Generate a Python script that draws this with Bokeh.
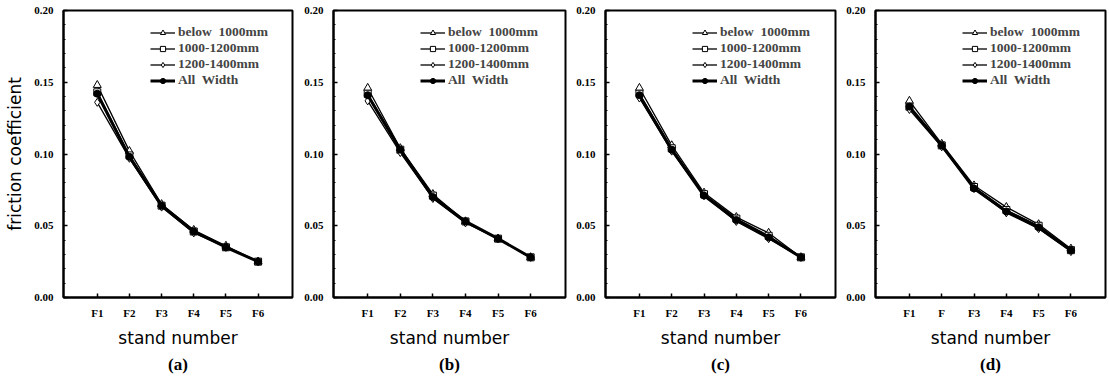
from bokeh.plotting import figure
from bokeh.layouts import row
from bokeh.models import FixedTicker, Legend, LegendItem, Title, Range1d, NumeralTickFormatter
from bokeh.embed import file_html
from bokeh.resources import INLINE

# ---------------- data ----------------
stand_labels_abc = ["F1", "F2", "F3", "F4", "F5", "F6"]
stand_labels_d = ["F1", "F", "F3", "F4", "F5", "F6"]
stand_pos = [1, 2, 3, 4, 5, 6]
series_names = ["below  1000mm", "1000-1200mm", "1200-1400mm", "All  Width"]
panel_tags = ["(a)", "(b)", "(c)", "(d)"]

a_below = [0.148, 0.102, 0.065, 0.047, 0.036, 0.025]
a_w1000_1200 = [0.143, 0.099, 0.064, 0.046, 0.035, 0.025]
a_w1200_1400 = [0.136, 0.097, 0.063, 0.045, 0.035, 0.025]
a_all = [0.142, 0.098, 0.064, 0.046, 0.035, 0.025]

b_below = [0.146, 0.104, 0.072, 0.053, 0.041, 0.028]
b_w1000_1200 = [0.142, 0.103, 0.071, 0.053, 0.041, 0.028]
b_w1200_1400 = [0.137, 0.101, 0.069, 0.052, 0.041, 0.028]
b_all = [0.141, 0.103, 0.070, 0.053, 0.041, 0.028]

c_below = [0.146, 0.106, 0.073, 0.056, 0.045, 0.028]
c_w1000_1200 = [0.142, 0.104, 0.072, 0.055, 0.043, 0.028]
c_w1200_1400 = [0.139, 0.102, 0.071, 0.053, 0.041, 0.028]
c_all = [0.141, 0.103, 0.071, 0.054, 0.042, 0.028]

d_below = [0.137, 0.107, 0.078, 0.063, 0.051, 0.034]
d_w1000_1200 = [0.133, 0.106, 0.077, 0.061, 0.050, 0.033]
d_w1200_1400 = [0.131, 0.105, 0.076, 0.059, 0.048, 0.032]
d_all = [0.133, 0.106, 0.076, 0.060, 0.049, 0.033]

y_ticks = [0.00, 0.05, 0.10, 0.15, 0.20]
y_minor = [i / 100 for i in range(0, 21)]

SERIF = "Liberation Serif"
SANS = "DejaVu Sans"


def make_panel(tag, labels, ys, width, left, right, ylabel=None):
    p = figure(width=width, height=380, output_backend="svg", toolbar_location=None,
               x_range=Range1d(-0.05, 7.07), y_range=Range1d(0, 0.2),
               min_border_left=left, min_border_right=right,
               min_border_top=10, min_border_bottom=83)
    p.grid.visible = False
    p.outline_line_color = "black"
    p.outline_line_width = 2
    p.outline_line_alpha = 1
    p.background_fill_color = "white"
    p.border_fill_color = "white"

    xa = p.xaxis[0]
    xa.ticker = FixedTicker(ticks=stand_pos)
    xa.major_label_overrides = {pos: lab for pos, lab in zip(stand_pos, labels)}
    ya = p.yaxis[0]
    ya.ticker = FixedTicker(ticks=y_ticks, minor_ticks=y_minor)
    ya.formatter = NumeralTickFormatter(format="0.00")
    for ax in (xa, ya):
        ax.axis_line_width = 2
        ax.major_tick_in = 4
        ax.major_tick_out = 0
        ax.major_tick_line_width = 1.5
        ax.minor_tick_in = 2
        ax.minor_tick_out = 0
        ax.major_label_text_font = SERIF
        ax.major_label_text_font_style = "bold"
        ax.major_label_text_font_size = "11px"
        ax.major_label_text_color = "black"
        ax.axis_label_text_font = SANS
        ax.axis_label_text_font_style = "normal"
        ax.axis_label_text_font_size = "17px"
        ax.axis_label_text_color = "black"
    xa.minor_tick_line_color = None
    xa.major_label_standoff = 9
    xa.axis_label = "stand number"
    xa.axis_label_standoff = 6
    ya.major_label_standoff = 10
    if ylabel:
        ya.axis_label = ylabel
        ya.axis_label_standoff = 6

    below, w12, w14, allw = ys
    l1 = p.line(stand_pos, below, line_color="black", line_width=1.3)
    m1 = p.scatter(stand_pos, below, marker="triangle", size=8, fill_color="white",
                   line_color="black", line_width=1)
    l2 = p.line(stand_pos, w12, line_color="black", line_width=1.3)
    m2 = p.scatter(stand_pos, w12, marker="square", size=7, fill_color="white",
                   line_color="black", line_width=1)
    l3 = p.line(stand_pos, w14, line_color="black", line_width=1.3)
    m3 = p.scatter(stand_pos, w14, marker="diamond", size=8, fill_color="white",
                   line_color="black", line_width=1)
    l4 = p.line(stand_pos, allw, line_color="black", line_width=3)
    m4 = p.scatter(stand_pos, allw, marker="circle", size=7, fill_color="black",
                   line_color="black")

    items = [LegendItem(label=series_names[0], renderers=[l1, m1]),
             LegendItem(label=series_names[1], renderers=[l2, m2]),
             LegendItem(label=series_names[2], renderers=[l3, m3]),
             LegendItem(label=series_names[3], renderers=[l4, m4])]
    leg = Legend(items=items, location=(87, 209), margin=0, padding=0,
                 spacing=0, glyph_width=25, glyph_height=13, label_standoff=3,
                 label_text_font=SERIF, label_text_font_style="bold",
                 label_text_font_size="13.5px", label_height=13,
                 border_line_color=None, background_fill_alpha=0)
    p.add_layout(leg)

    t = Title(text=tag, align="center", text_font=SERIF, text_font_style="bold",
              text_font_size="17px", text_color="black", standoff=4)
    p.add_layout(t, "below")
    return p


pa = make_panel(panel_tags[0], stand_labels_abc, (a_below, a_w1000_1200, a_w1200_1400, a_all),
                298, 63, 6, ylabel="friction coefficient")
pb = make_panel(panel_tags[1], stand_labels_abc, (b_below, b_w1000_1200, b_w1200_1400, b_all),
                272, 35, 5)
pc = make_panel(panel_tags[2], stand_labels_abc, (c_below, c_w1000_1200, c_w1200_1400, c_all),
                270, 35, 5)
pd_ = make_panel(panel_tags[3], stand_labels_d, (d_below, d_w1000_1200, d_w1200_1400, d_all),
                 269, 35, 4)

layout = row(pa, pb, pc, pd_, spacing=0)
open("out.html", "w").write(file_html(layout, INLINE))
